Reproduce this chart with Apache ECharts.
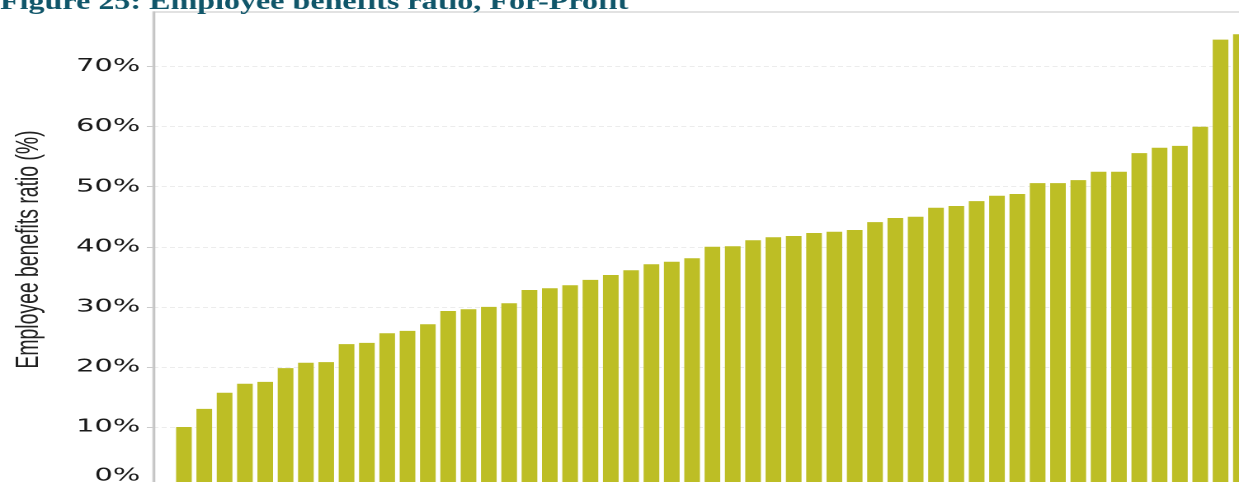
<!DOCTYPE html>
<html>
<head>
<meta charset="utf-8">
<script src="https://cdn.jsdelivr.net/npm/echarts@6/dist/echarts.min.js"></script>
<style>
  html, body { margin: 0; padding: 0; overflow: hidden; background: #ffffff; }
  #wrap { width: 1239px; height: 482px; overflow: hidden; position: relative; }
  #chart { width: 751px; height: 482px; transform: scaleX(1.6498); transform-origin: 0 0; }
</style>
</head>
<body>
<div id="wrap"><div id="chart"></div></div>
<script>
const titleText = 'Figure 25: Employee benefits ratio, For-Profit';
const yAxisName = 'Employee benefits ratio (%)';
const categories = [
  'A01','A02','A03','A04','A05','A06','A07','A08','A09','A10',
  'A11','A12','A13','A14','A15','A16','A17','A18','A19','A20',
  'A21','A22','A23','A24','A25','A26','A27','A28','A29','A30',
  'A31','A32','A33','A34','A35','A36','A37','A38','A39','A40',
  'A41','A42','A43','A44','A45','A46','A47','A48','A49','A50',
  'A51','A52','A53'
];
const benefitsRatio = [
  10.0, 13.0, 15.7, 17.2, 17.5, 19.8, 20.7, 20.8, 23.8, 24.0,
  25.6, 26.0, 27.1, 29.3, 29.6, 30.0, 30.6, 32.8, 33.1, 33.6,
  34.5, 35.3, 36.1, 37.1, 37.5, 38.1, 40.0, 40.1, 41.1, 41.6,
  41.8, 42.3, 42.5, 42.8, 44.1, 44.8, 45.0, 46.5, 46.8, 47.6,
  48.5, 48.8, 50.6, 50.6, 51.1, 52.5, 52.5, 55.6, 56.5, 56.8,
  60.0, 74.5, 75.4
];
const yTicks = [0, 10, 20, 30, 40, 50, 60, 70];

const labelFont = { fontFamily: 'DejaVu Sans', fontSize: 17.5, color: '#1a1a1a' };

const chart = echarts.init(document.getElementById('chart'), null, { devicePixelRatio: 2 });
chart.setOption({
  animation: false,
  backgroundColor: '#ffffff',
  graphic: [{
    type: 'text',
    x: 0,
    y: 15,
    scaleX: 0.81,
    z: 10,
    style: {
      text: titleText,
      fill: '#10566a',
      font: 'bold 24px "Liberation Serif"',
      textVerticalAlign: 'bottom'
    }
  }],
  grid: {
    left: 93,
    top: 12,
    right: -7.3,
    bottom: -5,
    show: true,
    borderColor: '#d9d9d9',
    borderWidth: 1.5,
    containLabel: false,
    outerBoundsMode: 'none'
  },
  xAxis: {
    type: 'category',
    data: categories,
    min: -1,
    boundaryGap: true,
    axisLine: { show: false },
    axisTick: { show: false },
    axisLabel: { show: false },
    splitLine: { show: false }
  },
  yAxis: {
    type: 'value',
    min: 0,
    max: 79.1,
    interval: 10,
    name: yAxisName,
    nameLocation: 'middle',
    nameGap: 66,
    nameTextStyle: {
      fontFamily: 'Liberation Sans',
      fontSize: 19.4,
      color: '#222222'
    },
    axisLine: { show: true, lineStyle: { color: '#c4c4c4', width: 1.3 } },
    axisTick: { show: true, length: 4, customValues: yTicks, lineStyle: { color: '#cccccc', width: 1 } },
    axisLabel: {
      show: true,
      customValues: yTicks,
      margin: 8,
      formatter: function (v) { return v === 0 ? '{z|0%}' : v + '%'; },
      fontFamily: labelFont.fontFamily,
      fontSize: labelFont.fontSize,
      color: labelFont.color,
      rich: {
        z: {
          fontFamily: labelFont.fontFamily,
          fontSize: labelFont.fontSize,
          color: labelFont.color,
          padding: [0, 0, 22, 0]
        }
      }
    },
    splitLine: { show: true, lineStyle: { color: '#ececec', width: 1, type: [3, 2] } }
  },
  series: [{
    type: 'bar',
    data: benefitsRatio,
    barCategoryGap: '23%',
    itemStyle: { color: '#bdbe25' }
  }]
});
</script>
</body>
</html>
